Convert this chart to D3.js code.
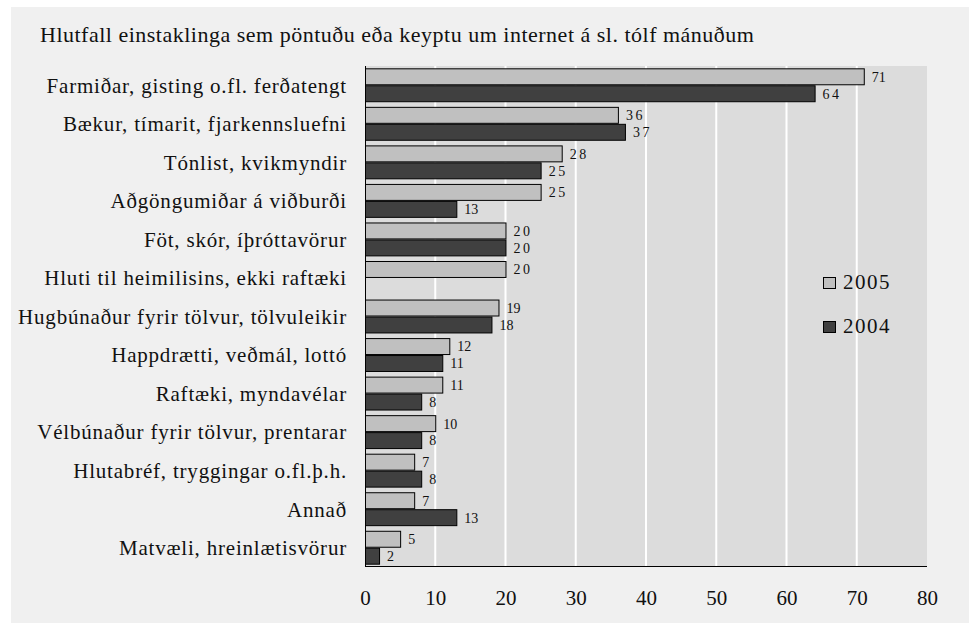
<!DOCTYPE html>
<html>
<head>
<meta charset="utf-8">
<script src="https://cdn.jsdelivr.net/npm/d3@7"></script>
<style>
  html, body { margin: 0; padding: 0; background: #ffffff; }
  svg { display: block; }
  text { font-family: "Liberation Serif", "Times New Roman", serif; fill: #111; }
</style>
</head>
<body>
<svg id="chart" width="969" height="623"></svg>
<script>
const title = "Hlutfall einstaklinga sem pöntuðu eða keyptu um internet á sl. tólf mánuðum";
const categories = [
  "Farmiðar, gisting o.fl. ferðatengt",
  "Bækur, tímarit, fjarkennsluefni",
  "Tónlist, kvikmyndir",
  "Aðgöngumiðar á viðburði",
  "Föt, skór, íþróttavörur",
  "Hluti til heimilisins, ekki raftæki",
  "Hugbúnaður fyrir tölvur, tölvuleikir",
  "Happdrætti, veðmál, lottó",
  "Raftæki, myndavélar",
  "Vélbúnaður fyrir tölvur, prentarar",
  "Hlutabréf, tryggingar o.fl.þ.h.",
  "Annað",
  "Matvæli, hreinlætisvörur"
];
const seriesNames = ["2005", "2004"];
const values2005 = [71, 36, 28, 25, 20, 20, 19, 12, 11, 10, 7, 7, 5];
const values2004 = [64, 37, 25, 13, 20, null, 18, 11, 8, 8, 8, 13, 2];
const xTicks = [0, 10, 20, 30, 40, 50, 60, 70, 80];
const colors = { "2005": "#c0c0c0", "2004": "#404040" };

const svg = d3.select("#chart");
svg.append("rect").attr("x", 11).attr("y", 7).attr("width", 958).attr("height", 616).attr("fill", "#f0f0f0");

const x = d3.scaleLinear().domain([0, 80]).range([365, 927]);
const y = d3.scaleBand().domain(categories).range([66, 567]).paddingInner(0.12).paddingOuter(0.06);
const ys = d3.scaleBand().domain(seriesNames).range([0, y.bandwidth()]);

// plot background
svg.append("rect").attr("x", x(0)).attr("y", 66).attr("width", x(80) - x(0)).attr("height", 567 - 66).attr("fill", "#dcdcdc");

// gridlines
svg.append("g").selectAll("line").data(xTicks.filter(t => t > 0 && t < 80)).join("line")
  .attr("x1", d => x(d)).attr("x2", d => x(d)).attr("y1", 66).attr("y2", 567)
  .attr("stroke", "#ffffff").attr("stroke-width", 2);

// title
svg.append("text").attr("x", 40).attr("y", 42).attr("font-size", 22).attr("letter-spacing", 0.5).text(title);

// data rows
const rows = categories.map((c, i) => ({ cat: c, vals: [
  { s: "2005", v: values2005[i] }, { s: "2004", v: values2004[i] }
].filter(d => d.v != null) }));

const g = svg.append("g").selectAll("g").data(rows).join("g")
  .attr("transform", d => `translate(0,${y(d.cat)})`);

g.selectAll("rect").data(d => d.vals).join("rect")
  .attr("x", x(0) + 0.5)
  .attr("y", d => ys(d.s) + 0.5)
  .attr("width", d => x(d.v) - x(0))
  .attr("height", ys.bandwidth() - 1)
  .attr("fill", d => colors[d.s])
  .attr("stroke", "#000").attr("stroke-width", 1);

g.selectAll("text.val").data(d => d.vals).join("text").attr("class", "val")
  .attr("x", d => x(d.v) + 8)
  .attr("y", d => ys(d.s) + ys.bandwidth() / 2)
  .attr("dy", "0.35em")
  .attr("font-size", 14)
  .attr("letter-spacing", d => String(d.v).includes("1") ? 0 : 2.5)
  .text(d => d.v);

// category labels
svg.append("g").selectAll("text").data(categories).join("text")
  .attr("x", 347).attr("y", d => y(d) + y.bandwidth() / 2)
  .attr("dy", "0.35em").attr("text-anchor", "end").attr("font-size", 21).attr("letter-spacing", 0.8)
  .text(d => d);

// axes lines
svg.append("line").attr("x1", x(0)).attr("x2", x(80)).attr("y1", 566.5).attr("y2", 566.5).attr("stroke", "#000");
svg.append("line").attr("x1", x(0) + 0.5).attr("x2", x(0) + 0.5).attr("y1", 66).attr("y2", 567).attr("stroke", "#000");

// x axis tick labels
const xAxis = d3.axisBottom(x).tickValues(xTicks).tickSize(0).tickPadding(0);
const ax = svg.append("g").attr("transform", "translate(0,589)").call(xAxis);
ax.select(".domain").remove();
ax.selectAll("text").attr("font-size", 21).attr("dy", "0.75em").style("font-family", '"Liberation Serif", serif').attr("fill", "#111");

// legend
const leg = svg.append("g").selectAll("g").data(seriesNames).join("g")
  .attr("transform", (d, i) => `translate(823,${277 + i * 44})`);
leg.append("rect").attr("x", 0.5).attr("y", 0.5).attr("width", 12).attr("height", 11)
  .attr("fill", d => colors[d]).attr("stroke", "#000");
leg.append("text").attr("x", 20).attr("y", 12).attr("font-size", 21).attr("letter-spacing", 1.5).text(d => d);
</script>
</body>
</html>
